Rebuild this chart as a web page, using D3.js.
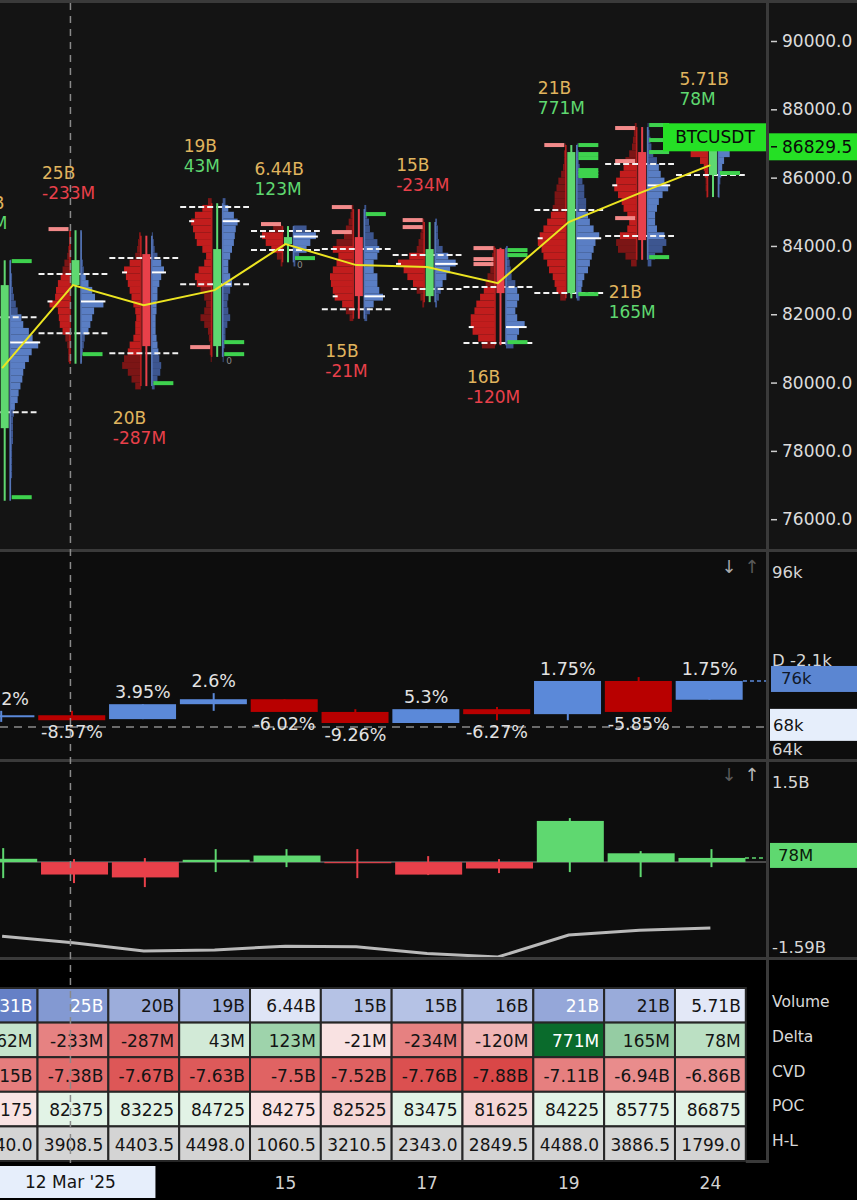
<!DOCTYPE html>
<html><head><meta charset="utf-8">
<script src="https://cdn.jsdelivr.net/npm/d3@7"></script>
<style>
html,body{margin:0;padding:0;background:#000;}
svg{display:block;font-family:"DejaVu Sans",Verdana,sans-serif;}
</style></head><body>
<svg id="chart" width="857" height="1200"></svg>
<script>
// ---------------- DATA ----------------
const dayIdx = d3.range(11);
const dateTickIndex = [4, 6, 8, 10];
const dateTickLabels = ["15", "17", "19", "24"];
const crosshairIndex = 1;
const crosshairLabel = "12 Mar '25";

const open  = [78665, 82853, 83761, 81067, 84054, 84259, 82531, 83908, 82619, 86749, 86075];
const close = [82853, 83585, 81067, 83908, 84259, 82531, 83908, 82619, 86749, 84171, 86829.5];
const high  = [83580, 84460, 84300, 85250, 84581, 85079, 84698, 83945, 86954, 87481, 87230];
const low   = [76540, 80551.5, 79896.5, 80752, 83520.5, 81868.5, 82355, 81095.5, 82466, 83594.5, 85431];
const vwap  = [80422, 82853, 82267, 82707, 84054, 83439, 83380, 82912, 84698, 85548, 86368];
const vah   = [81916, 83176, 83644, 85138, 84435, 83908, 83732, 82795, 85050, 86397, 86900];
const val   = [79134, 81447, 80861, 82882, 83878, 82150, 82736, 81155, 82619, 84288, 86075];
const poc   = [81175, 82375, 83225, 84725, 84275, 82525, 83475, 81625, 84225, 85775, 86875];
const pocBefore = 82000;
const lastPrice = 86829.5;
const symbol = "BTCUSDT";

const volumeValues = [31, 25, 20, 19, 6.44, 15, 15, 16, 21.4, 20.6, 5.71];
const volumeLabels = ["31B", "25B", "20B", "19B", "6.44B", "15B", "15B", "16B", "21B", "21B", "5.71B"];
const deltaValues  = [62, -233, -287, 43, 123, -21, -234, -120, 771, 165, 78];   // M
const deltaHigh    = [262, 56, 75, 243, 243, 243, 112, 56, 824, 206, 243];        // M
const deltaLow     = [-300, -393, -468, -187, -94, -300, -243, -206, -187, -281, -94];
const cvdValues    = [-7.15, -7.38, -7.67, -7.63, -7.5, -7.52, -7.76, -7.88, -7.11, -6.94, -6.86]; // B

const oiOpen  = [69.8, 70.1, 69.4, 72.1, 73.0, 70.7, 68.7, 71.2, 70.3, 76.3, 72.9];
const oiClose = [70.1, 69.2, 72.1, 73.0, 70.7, 68.7, 71.2, 70.3, 76.3, 70.7, 76.3];
const oiHigh  = [70.9, 70.9, 72.1, 74.1, 73.0, 71.2, 71.2, 71.6, 76.3, 77.0, 76.3];
const oiLow   = [68.9, 69.2, 69.4, 70.9, 70.7, 68.7, 68.7, 69.2, 69.2, 70.7, 72.9];
const oiPctLabels = ["1.52%", "-8.57%", "3.95%", "2.6%", "-6.02%", "-9.26%", "5.3%", "-6.27%", "1.75%", "-5.85%", "1.75%"];
const oiAxisTicks = [96, 64];
const oiRef = 68;
const oiMarker = 80;
const oiMarkerLabel = "D -2.1k";

const profileStep = 200;
const profileBase = [76600, 80600, 79800, 80600, 83400, 81800, 82200, 81000, 82400, 83400, 85400];
const sellProfile = [
  [1,1,1,2,2,2,2,3,3,4,4,5,6,8,8,10,12,14,16,18,20,22,20,18,16,14,12,10,8,6,5,4,3,2,1],
  [2,2,3,5,8,11,12,13,22,16,15,13,10,8,6,3,2,1,1],
  [6,10,14,20,18,14,12,8,6,6,5,6,8,10,12,14,16,18,12,6,4,3,2],
  [1,2,2,3,4,8,12,8,6,8,12,16,18,14,8,6,10,16,18,20,22,18,10,4],
  [2,6,12,18,22,10],
  [4,8,12,20,22,24,25,22,18,16,22,18,10,8,5,3,2],
  [2,4,8,12,18,22,28,16,8,6,4,3,2],
  [14,18,24,26,26,22,20,16,12,10,8,5,4,3,2],
  [6,10,12,14,18,20,24,26,30,28,24,20,16,14,12,12,10,8,5,3,2,2,1],
  [6,12,20,22,18,10,8,10,14,16,20,24,22,18,14,12,8,5,4,3,2],
  [1,2,2,3,4,8,18,20,6,2]
];
const buyProfile = [
  [1,1,1,2,2,2,2,2,3,3,3,3,4,5,8,9,11,13,14,16,20,23,30,24,20,14,12,8,6,4,3,2,2,1,1],
  [1,2,3,4,8,10,12,14,24,15,12,8,5,3,2,1,1,1,1],
  [3,6,9,10,8,7,6,5,4,4,4,5,5,6,6,8,10,13,10,6,3,2,1],
  [1,1,2,3,3,5,8,6,5,6,8,10,8,6,6,8,10,12,13,14,16,12,6,3],
  [2,6,14,18,24,14],
  [3,6,10,20,16,14,14,10,10,14,16,14,10,6,5,3,2],
  [2,4,6,8,12,16,22,14,8,4,3,3,2],
  [8,12,14,20,12,10,12,14,12,10,6,5,4,3,2],
  [3,5,6,8,12,14,16,18,20,24,18,14,12,10,10,8,8,6,4,3,2,2,1],
  [4,8,16,20,18,10,8,8,10,12,16,22,18,14,12,10,6,4,3,2,1],
  [1,1,2,3,4,6,12,24,8,2]
];
const sellMarks = [[], [84493], [], [81038], [84640], [85138, 84406], [84757, 84552], [83937, 83615, 83469], [86954], [87452, 86485, 84815], []];
const buyMarks  = [[83556, 76644], [80832], [79983], [81184, 80832], [83644], [84933], [], [83879, 83732, 81184],
                   [86954, 86690, 86573, 86222, 86134, 86046, 82590], [87540, 87100, 86749, 83673], [86134]];
const zeroMarks = [{i: 3, p: 80627}, {i: 4, p: 83439}];

const priceTicks = d3.range(76000, 90001, 2000);
const deltaAxisTicks = [1500, -1590];
const deltaAxisLabels = ["1.5B", "-1.59B"];
const tableRows = ["Volume", "Delta", "CVD", "POC", "H-L"];

// ---------------- SETUP ----------------
const svg = d3.select("#chart");
const AX = 767;
const x = d3.scaleBand().domain(dayIdx).range([-33.3, 745.8]);
const bw = x.bandwidth();
const cx = i => x(i) + bw / 2;
const kx = i => x(i) + 38;           // candle / profile centre
const y = d3.scaleLinear().domain([76000, 90000]).range([519.2, 41]);
const wScale = d3.scaleLinear().domain([0, 30]).range([0, 28]);

const GREEN = "#5fd870", RED = "#e8404a", GOLD = "#e0b45e";

// backgrounds
svg.append("rect").attr("x", 0).attr("y", 0).attr("width", 857).attr("height", 550).attr("fill", "#141414");
svg.append("rect").attr("x", 0).attr("y", 550).attr("width", 857).attr("height", 410).attr("fill", "#0d0d0d");
svg.append("rect").attr("x", 0).attr("y", 960).attr("width", 857).attr("height", 240).attr("fill", "#000");

const defs = svg.append("defs");
defs.append("clipPath").attr("id", "mainclip").append("rect").attr("x", 0).attr("y", 3).attr("width", AX).attr("height", 546);

const main = svg.append("g").attr("clip-path", "url(#mainclip)");

// ---------------- PROFILES ----------------
dayIdx.forEach(i => {
  const c = kx(i);
  const bins = sellProfile[i].map((v, k) => ({lo: profileBase[i] + k * profileStep, sell: v, buy: buyProfile[i][k]}));
  const inVA = d => (d.lo + profileStep / 2) <= vah[i] && (d.lo + profileStep / 2) >= val[i];
  const g = main.append("g");
  g.selectAll(".s").data(bins).join("rect")
    .attr("x", d => c - 5.5 - wScale(d.sell)).attr("y", d => y(d.lo + profileStep))
    .attr("width", d => wScale(d.sell)).attr("height", d => y(d.lo) - y(d.lo + profileStep))
    .attr("fill", d => inVA(d) ? "#c21d1d" : "#7c1515");
  g.selectAll(".b").data(bins).join("rect")
    .attr("x", c + 5.5).attr("y", d => y(d.lo + profileStep))
    .attr("width", d => wScale(d.buy)).attr("height", d => y(d.lo) - y(d.lo + profileStep))
    .attr("fill", d => inVA(d) ? "#5a7ec4" : "#3d5690");
  g.append("line").attr("x1", c - 5.5).attr("x2", c - 5.5).attr("y1", y(high[i])).attr("y2", y(low[i]))
    .attr("stroke", "#b81f1f").attr("stroke-width", 1.6);
  g.append("line").attr("x1", c + 5.5).attr("x2", c + 5.5).attr("y1", y(high[i])).attr("y2", y(low[i]))
    .attr("stroke", "#5676b8").attr("stroke-width", 1.6);
  [vah[i], val[i]].forEach(p => {
    g.append("line").attr("x1", x(i) + 1).attr("x2", x(i) + bw - 1).attr("y1", y(p)).attr("y2", y(p))
      .attr("stroke", "#f2f2f2").attr("stroke-width", 2).attr("stroke-dasharray", "6,3");
  });
  g.selectAll(".pm").data(sellMarks[i]).join("rect")
    .attr("x", c - 27).attr("y", p => y(p) - 2).attr("width", 20).attr("height", 4).attr("fill", "#f28a8a");
  g.selectAll(".gm").data(buyMarks[i]).join("rect")
    .attr("x", c + 7).attr("y", p => y(p) - 2).attr("width", 20).attr("height", 4).attr("fill", "#3ed24e");
  const up = close[i] >= open[i];
  const col = up ? GREEN : RED;
  g.append("line").attr("x1", c).attr("x2", c).attr("y1", y(high[i])).attr("y2", y(low[i]))
    .attr("stroke", col).attr("stroke-width", 2);
  g.append("rect").attr("x", c - 4).attr("width", 8)
    .attr("y", y(Math.max(open[i], close[i]))).attr("height", Math.max(1, Math.abs(y(open[i]) - y(close[i]))))
    .attr("fill", col);
  const pk = Math.floor((poc[i] - profileBase[i]) / profileStep);
  g.append("line").attr("x1", c + 5.5).attr("x2", c + 5.5 + wScale(buyProfile[i][pk]) + 2)
    .attr("y1", y(poc[i])).attr("y2", y(poc[i])).attr("stroke", "#ffffff").attr("stroke-width", 2);
  g.append("line").attr("x1", c - 5.5 - wScale(sellProfile[i][pk]) - 2).attr("x2", c - 5.5 - wScale(sellProfile[i][pk]) + 3)
    .attr("y1", y(poc[i])).attr("y2", y(poc[i])).attr("stroke", "#ffffff").attr("stroke-width", 2);
});

zeroMarks.forEach(z => {
  main.append("text").attr("x", kx(z.i) + 9).attr("y", y(z.p)).attr("fill", "#8a8a8a")
    .attr("font-size", 9).attr("dominant-baseline", "central").text("0");
});

main.append("path").datum(dayIdx)
  .attr("d", d3.line().x(i => cx(i)).y(i => y(vwap[i])))
  .attr("fill", "none").attr("stroke", "#ece421").attr("stroke-width", 2);

dayIdx.forEach(i => {
  const up = close[i] >= open[i];
  const vy = up ? y(high[i]) - 57 : y(low[i]) + 32;
  main.append("text").attr("x", x(i) + 4.5).attr("y", vy).attr("dominant-baseline", "central")
    .attr("font-size", 17).attr("fill", GOLD).text(volumeLabels[i]);
  main.append("text").attr("x", x(i) + 4.5).attr("y", vy + 20).attr("dominant-baseline", "central")
    .attr("font-size", 17).attr("fill", deltaValues[i] >= 0 ? GREEN : RED).text(deltaValues[i] + "M");
});

const yp = y(lastPrice);
svg.append("rect").attr("x", 663).attr("y", yp - 26).attr("width", AX - 663).attr("height", 28).attr("fill", "#25e025");
svg.append("text").attr("x", (663 + AX) / 2).attr("y", yp - 12).attr("text-anchor", "middle")
  .attr("dominant-baseline", "central").attr("font-size", 17).attr("fill", "#0a0a0a").text(symbol);

// ---------------- PRICE AXIS ----------------
const pAxis = svg.append("g").attr("transform", `translate(${AX + 4},0)`)
  .call(d3.axisRight(y).tickValues(priceTicks).tickFormat(d3.format(".1f")).tickSize(6).tickPadding(5));
pAxis.select(".domain").remove();
pAxis.selectAll(".tick line").attr("stroke", "#cfcfcf").attr("stroke-width", 1.5);
pAxis.selectAll(".tick text").attr("fill", "#dcdcdc").attr("font-size", 17).attr("font-family", "DejaVu Sans");

svg.append("rect").attr("x", AX + 1).attr("y", yp - 16).attr("width", 857 - AX).attr("height", 27).attr("fill", "#25e025");
svg.append("line").attr("x1", AX + 4).attr("x2", AX + 10).attr("y1", yp - 2.5).attr("y2", yp - 2.5).attr("stroke", "#0a0a0a").attr("stroke-width", 1.5);
svg.append("text").attr("x", AX + 15).attr("y", yp - 2.5).attr("dominant-baseline", "central")
  .attr("font-size", 17).attr("fill", "#0a0a0a").text(d3.format(".1f")(lastPrice));

// ---------------- OI PANEL ----------------
const yo = d3.scaleLinear().domain([64, 96]).range([749, 572]);
const oiG = svg.append("g");
oiG.append("line").attr("x1", 0).attr("x2", AX).attr("y1", yo(oiRef)).attr("y2", yo(oiRef))
  .attr("stroke", "#8a8a8a").attr("stroke-width", 1.5).attr("stroke-dasharray", "8,6");
dayIdx.forEach(i => {
  const up = oiClose[i] >= oiOpen[i];
  const col = up ? "#5b89d9" : "#b80000";
  oiG.append("line").attr("x1", x(i) + 34.5).attr("x2", x(i) + 34.5).attr("y1", yo(oiHigh[i])).attr("y2", yo(oiLow[i]))
    .attr("stroke", col).attr("stroke-width", 2);
  oiG.append("rect").attr("x", x(i) + 0.7).attr("width", 67)
    .attr("y", yo(Math.max(oiOpen[i], oiClose[i]))).attr("height", Math.max(2, Math.abs(yo(oiOpen[i]) - yo(oiClose[i]))))
    .attr("fill", col);
  oiG.append("text").attr("x", x(i) + 34.5).attr("y", up ? yo(oiHigh[i]) - 12 : yo(oiLow[i]) + 12)
    .attr("text-anchor", "middle").attr("dominant-baseline", "central").attr("font-size", 17.5)
    .attr("fill", "#e2e2e2").text(oiPctLabels[i]);
});
oiG.append("line").attr("x1", x(10) + 68).attr("x2", AX).attr("y1", yo(oiClose[10])).attr("y2", yo(oiClose[10]))
  .attr("stroke", "#5b89d9").attr("stroke-width", 1.5).attr("stroke-dasharray", "4,3");
oiAxisTicks.forEach(t => {
  svg.append("text").attr("x", AX + 5).attr("y", yo(t)).attr("dominant-baseline", "central")
    .attr("font-size", 16.5).attr("fill", "#d6d6d6").text(t + "k");
});
svg.append("text").attr("x", AX + 5).attr("y", yo(oiMarker)).attr("dominant-baseline", "central")
  .attr("font-size", 16.5).attr("fill", "#d6d6d6").text(oiMarkerLabel);
svg.append("rect").attr("x", AX + 4).attr("y", yo(oiClose[10]) - 15).attr("width", 857 - AX).attr("height", 26).attr("fill", "#5b86d2");
svg.append("text").attr("x", AX + 14).attr("y", yo(oiClose[10]) - 2).attr("dominant-baseline", "central")
  .attr("font-size", 16.5).attr("fill", "#101828").text(Math.round(oiClose[10]) + "k");
svg.append("rect").attr("x", AX + 3).attr("y", yo(oiRef) - 18).attr("width", 857 - AX).attr("height", 32).attr("fill", "#e6eefb");
svg.append("text").attr("x", AX + 6).attr("y", yo(oiRef) - 1).attr("dominant-baseline", "central")
  .attr("font-size", 16.5).attr("fill", "#111").text(oiRef + "k");

// ---------------- DELTA PANEL ----------------
const yd = d3.scaleLinear().domain([-1590, 1500]).range([947, 782]);
const dG = svg.append("g");
dG.append("line").attr("x1", 0).attr("x2", AX).attr("y1", yd(0)).attr("y2", yd(0)).attr("stroke", "#4a4a4a").attr("stroke-width", 2);
dayIdx.forEach(i => {
  const col = deltaValues[i] >= 0 ? GREEN : RED;
  dG.append("line").attr("x1", x(i) + 36.5).attr("x2", x(i) + 36.5).attr("y1", yd(deltaHigh[i])).attr("y2", yd(deltaLow[i]))
    .attr("stroke", col).attr("stroke-width", 2);
  dG.append("rect").attr("x", x(i) + 3.5).attr("width", 67)
    .attr("y", yd(Math.max(0, deltaValues[i]))).attr("height", Math.abs(yd(0) - yd(deltaValues[i])))
    .attr("fill", col);
});
const yc = d3.scaleLinear().domain([-7.88, -6.86]).range([957, 928]);
dG.append("path").datum(dayIdx).attr("d", d3.line().x(i => cx(i)).y(i => yc(cvdValues[i])))
  .attr("fill", "none").attr("stroke", "#b9b9b9").attr("stroke-width", 3);
dG.append("line").attr("x1", x(10) + 70).attr("x2", AX).attr("y1", yd(deltaValues[10])).attr("y2", yd(deltaValues[10]))
  .attr("stroke", GREEN).attr("stroke-width", 1.5).attr("stroke-dasharray", "4,3");
deltaAxisTicks.forEach((t, k) => {
  svg.append("text").attr("x", AX + 5).attr("y", yd(t)).attr("dominant-baseline", "central")
    .attr("font-size", 16.5).attr("fill", "#d6d6d6").text(deltaAxisLabels[k]);
});
svg.append("rect").attr("x", AX + 3).attr("y", yd(deltaValues[10]) - 15).attr("width", 857 - AX).attr("height", 25).attr("fill", GREEN);
svg.append("text").attr("x", AX + 11).attr("y", yd(deltaValues[10]) - 2).attr("dominant-baseline", "central")
  .attr("font-size", 16.5).attr("fill", "#0a1a0a").text(deltaValues[10] + "M");

// arrows
[[566, "#a8a8a8", "#5a5a5a"], [774, "#5a5a5a", "#b8b8b8"]].forEach(([ay, c1, c2]) => {
  svg.append("text").attr("x", 729).attr("y", ay).attr("text-anchor", "middle").attr("dominant-baseline", "central")
    .attr("font-size", 18).attr("fill", c1).text("↓");
  svg.append("text").attr("x", 752).attr("y", ay).attr("text-anchor", "middle").attr("dominant-baseline", "central")
    .attr("font-size", 18).attr("fill", c2).text("↑");
});

// ---------------- TABLE ----------------
const ry = d3.scaleBand().domain(tableRows).range([988, 1161]);
const rh = ry.bandwidth();
const volColor = d3.scaleLinear().domain([5.71, 31]).range(["#e3e8f7", "#6580c6"]);
const deltaColor = v => v < 0 ? d3.scaleLinear().domain([-300, 0]).range(["#e06363", "#fbecec"]).clamp(true)(v)
                               : d3.scaleLinear().domain([0, 120, 771]).range(["#eef7ef", "#9fd3ac", "#0a6b2c"])(v);
const cvdColor = d3.scaleLinear().domain([-7.9, -6.8]).range(["#d94646", "#eb9696"]);
const cells = [];
dayIdx.forEach(i => {
  cells.push({i, row: "Volume", text: volumeLabels[i], fill: volColor(volumeValues[i]), dark: volumeValues[i] > 21});
  cells.push({i, row: "Delta", text: deltaValues[i] + "M", fill: deltaColor(deltaValues[i]), dark: deltaValues[i] > 500});
  cells.push({i, row: "CVD", text: cvdValues[i] + "B", fill: cvdColor(cvdValues[i]), dark: false});
  const prev = i === 0 ? pocBefore : poc[i - 1];
  cells.push({i, row: "POC", text: String(poc[i]), fill: poc[i] < prev ? (poc[i] < prev - 1500 ? "#f5d6d6" : "#f9e3e3") : "#e2f3e6", dark: false});
  cells.push({i, row: "H-L", text: d3.format(".1f")(high[i] - low[i]), fill: "#d4d4d4", dark: false});
});
const tG = svg.append("g");
tG.selectAll("rect").data(cells).join("rect")
  .attr("x", d => x(d.i)).attr("y", d => ry(d.row)).attr("width", bw).attr("height", rh)
  .attr("fill", d => d.fill).attr("stroke", "#262626").attr("stroke-width", 2);
tG.selectAll("text").data(cells).join("text")
  .attr("x", d => x(d.i) + bw - 5).attr("y", d => ry(d.row) + rh / 2 + 1).attr("text-anchor", "end")
  .attr("dominant-baseline", "central").attr("font-size", 17).attr("fill", d => d.dark ? "#ffffff" : "#141414")
  .text(d => d.text);
tableRows.forEach(r => {
  svg.append("text").attr("x", AX + 5).attr("y", ry(r) + rh / 2 - 3).attr("dominant-baseline", "central")
    .attr("font-size", 15.5).attr("fill", "#d8d8d8").text(r);
});

// ---------------- FRAME ----------------
svg.append("rect").attr("x", 0).attr("y", 0).attr("width", 857).attr("height", 3).attr("fill", "#3a3a3a");
[549, 759, 957].forEach(v => svg.append("rect").attr("x", 0).attr("y", v).attr("width", 857).attr("height", 3).attr("fill", "#3a3a3a"));
svg.append("rect").attr("x", AX - 1).attr("y", 0).attr("width", 3).attr("height", 1163).attr("fill", "#3a3a3a");
svg.append("rect").attr("x", x(10) + bw).attr("y", 1160).attr("width", AX + 2 - x(10) - bw).attr("height", 3).attr("fill", "#3a3a3a");

const chx = cx(crosshairIndex) - 2.5;
svg.append("line").attr("x1", chx).attr("x2", chx).attr("y1", 3).attr("y2", 1163)
  .attr("stroke", "#8a8a8a").attr("stroke-width", 1.5).attr("stroke-dasharray", "7,6");

// ---------------- DATE AXIS ----------------
svg.append("rect").attr("x", chx - 85).attr("y", 1166).attr("width", 170).attr("height", 32).attr("fill", "#e6eefb");
svg.append("text").attr("x", chx).attr("y", 1182).attr("text-anchor", "middle").attr("dominant-baseline", "central")
  .attr("font-size", 17).attr("fill", "#141414").text(crosshairLabel);
dateTickIndex.forEach((i, k) => {
  svg.append("text").attr("x", cx(i)).attr("y", 1183).attr("text-anchor", "middle").attr("dominant-baseline", "central")
    .attr("font-size", 17).attr("fill", "#d2d2d2").text(dateTickLabels[k]);
});
</script>
</body></html>
